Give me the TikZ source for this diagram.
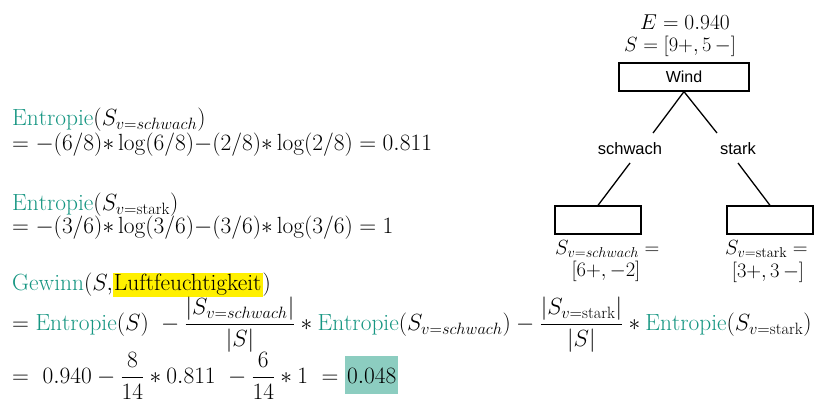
\RequirePackage{fix-cm}
\documentclass[tikz,border=0pt]{standalone}
\usepackage{fontspec}
\usepackage{amsmath}
\newfontfamily\arial{Liberation Sans}
\definecolor{teal2}{RGB}{22,150,130}
\definecolor{tealbox}{RGB}{140,205,192}
\definecolor{hlyellow}{RGB}{255,240,0}
\newcommand{\Ent}{\textcolor{teal2}{\mathrm{Entropie}}}
\newcommand{\Gew}{\textcolor{teal2}{\mathrm{Gewinn}}}
\begin{document}
\begin{tikzpicture}[x=1pt,y=-1pt]
\tikzset{
  box/.style={draw,line width=1.3pt,minimum width=86pt,minimum height=28pt,inner sep=0},
  lbl/.style={font=\arial\fontsize{16.5}{18}\selectfont,inner sep=0},
  eq/.style={anchor=west,inner sep=0,font=\fontsize{23.4}{25}\selectfont},
  mt/.style={inner sep=0,font=\fontsize{20.5}{22}\selectfont},
  edge/.style={line width=1.3pt}
}
\useasboundingbox (0,0) rectangle (825,410);
% tree
\node[mt,font=\fontsize{21.5}{23}\selectfont] (E) at (685,22) {$E = 0.940$};
\node[mt] (S) at (680,46) {$S = [9{+}, 5\,{-}]$};
\node[box,minimum width=130pt,font=\arial\fontsize{16}{18}\selectfont] (wind) at (684,77) {Wind};
\node[lbl] (schw) at (630,149) {schwach};
\node[lbl] (stark) at (738,149) {stark};
\node[box] (lb) at (598,220) {};
\node[box] (rb) at (770,220) {};
\coordinate (a1) at (653,133);
\coordinate (a2) at (717,133);
\coordinate (b1) at (630,163);
\coordinate (b2) at (738,163);
\draw[edge] (wind.south) -- (a1);
\draw[edge] (wind.south) -- (a2);
\draw[edge] (b1) -- (lb.north);
\draw[edge] (b2) -- (rb.north);
\node[mt,anchor=west] (ls1) at (555,249) {$S_{v=schwach} =$};
\node[mt] (ls2) at (606,271) {$[6{+},{-}2]$};
\node[mt,anchor=west] (rs1) at (725,249) {$S_{v=\mathrm{stark}} =$};
\node[mt] (rs2) at (768,272) {$[3{+},3\,{-}]$};
% equations
\node[eq] (e1) at (12,120) {$\Ent(S_{v=schwach})$};
\node[eq] (e2) at (12,145) {$= -(6/8){\ast}\log(6/8){-}(2/8){\ast}\log(2/8) = 0.811$};
\node[eq] (e3) at (12,205) {$\Ent(S_{v=\mathrm{stark}})$};
\node[eq] (e4) at (12,228) {$= -(3/6){\ast}\log(3/6){-}(3/6){\ast}\log(3/6) = 1$};
\node[eq] (g1) at (12,285) {$\Gew(S,\!\text{\fboxsep=1pt\colorbox{hlyellow}{Luftfeuchtigkeit}})$};
\node[eq] (g2) at (12,325) {$= \Ent(S)\ -\dfrac{|S_{v=schwach}|}{|S|}\ast\Ent(S_{v=schwach}) - \dfrac{|S_{v=\mathrm{stark}}|}{|S|}\ast\Ent(S_{v=\mathrm{stark}})$};
\node[eq] (g3) at (12,376) {$=\ 0.940 - \dfrac{8}{14}\ast 0.811\ - \dfrac{6}{14}\ast 1\ = \text{\fboxsep=2pt\colorbox{tealbox}{\rule[-9pt]{0pt}{34pt}$0.048$}}$};
\end{tikzpicture}
\end{document}
